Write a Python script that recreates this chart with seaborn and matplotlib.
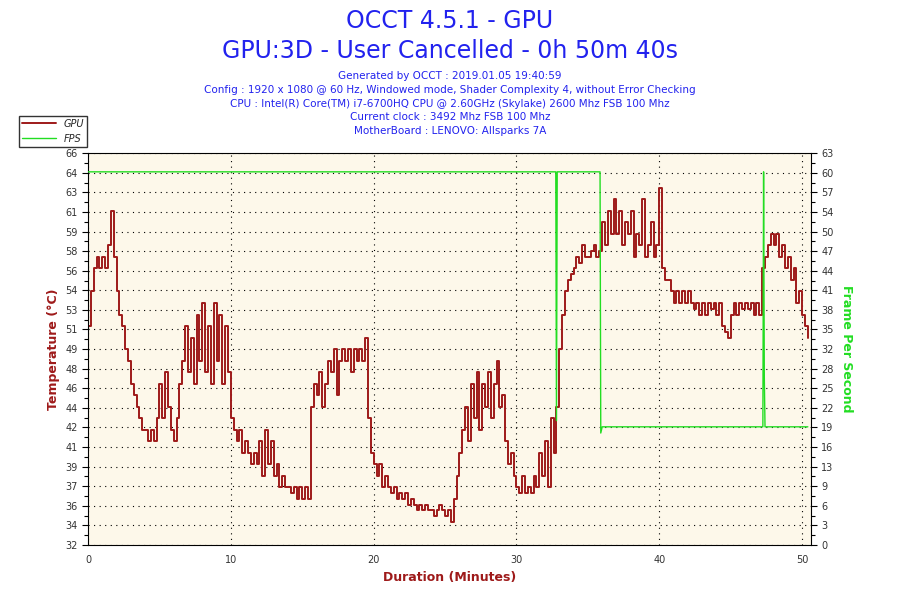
import numpy as np
import matplotlib
matplotlib.use("Agg")
import matplotlib.pyplot as plt
import seaborn as sns

# GPU temperature, one sample every 0.2 minutes
temp = [
    51, 54, 56, 57, 56,   57, 56, 58, 61, 57,   54, 52, 51, 49, 48,
    46, 45, 44, 43, 42,   42, 41, 42, 41, 43,   46, 43, 47, 44, 42,
    41, 43, 46, 48, 51,   47, 50, 46, 52, 48,   53, 47, 51, 46, 53,
    48, 52, 46, 51, 47,   43, 42, 41, 42, 40,   41, 40, 39, 40, 39,
    41, 38, 42, 39, 41,   38, 39, 37, 38, 37,   37, 36.5, 37, 36, 37,
    36, 37, 36, 44, 46,   45, 47, 44, 46, 48,   47, 49, 45, 48, 49,
    48, 49, 47, 49, 48,   49, 48, 50, 43, 40,   39, 38, 39, 37, 38,
    37, 36.5, 37, 36, 36.5, 36, 36.5, 35.5, 36, 35.5, 35, 35.5, 35, 35.5, 35,
    35, 34.5, 35, 35.5, 35, 34.5, 35, 34, 36, 38,  40, 42, 44, 41, 46,
    43, 47, 42, 46, 44,   47, 43, 46, 48, 44,   45, 41, 39, 40, 38,
    37, 36.5, 38, 36.5, 37, 36.5, 38, 37, 40, 38, 41, 37, 43, 40, 44,
    49, 52, 54, 55, 55.5, 56, 57, 56.5, 58, 57, 57, 57.5, 58, 57, 57.5,
    60, 58, 61, 59, 62,   59, 61, 58, 60, 59,   61, 57, 59, 58, 62,
    57, 58, 60, 57, 58,   63, 56, 55, 55, 54,   53, 54, 53, 54, 53,
    54, 53, 52.5, 53, 52, 53, 52, 53, 52.5, 53, 52, 53, 51, 50.5, 50,
    52, 53, 52, 53, 52.5, 53, 52.5, 53, 52, 53, 52, 56, 57, 58, 59,
    58, 59, 57, 58, 56,   57, 55, 56, 53, 54,   52, 51, 50,
]
temp_minutes = np.arange(len(temp)) * 0.2

fps_minutes = [0, 32.75, 32.8, 32.85, 35.85, 35.9, 36.0, 47.25, 47.3, 47.35, 47.4, 50.4]
fps_values = [60, 60, 20, 60, 60, 18, 19, 19, 60, 27, 19, 19]

left_labels = [32, 34, 36, 37, 39, 41, 42, 44, 46, 48, 49, 51, 53, 54, 56, 58, 59, 61, 63, 64, 66]
right_labels = [0, 3, 6, 9, 13, 16, 19, 22, 25, 28, 32, 35, 38, 41, 44, 47, 50, 54, 57, 60, 63]

sns.set_style("white")
plt.rcParams['font.family'] = ['DejaVu Sans']

red = "#9E1A1A"
green = "#22DD22"
blue = "#2222EE"

fig = plt.figure(figsize=(9, 6), dpi=100)
ax = fig.add_axes([0.0978, 0.0917, 0.803, 0.653])
ax.set_facecolor("#FDF8EA")
ax2 = ax.twinx()

ax.plot(temp_minutes, temp, color=red, lw=1.4, drawstyle="steps-post", label="GPU")
ax2.plot(fps_minutes, fps_values, color=green, lw=1.0, label="FPS")

ax.set_xlim(0, 50.6)
ax.set_ylim(32, 66)
ax2.set_ylim(0, 63)
ax.set_yticks(np.linspace(32, 66, 21))
ax.set_yticklabels([str(v) for v in left_labels], fontsize=7)
ax2.set_yticks(np.linspace(0, 63, 21))
ax2.set_yticklabels([str(v) for v in right_labels], fontsize=7)
ax.set_xticks([0, 10, 20, 30, 40, 50])
ax.set_xticklabels(["0", "10", "20", "30", "40", "50"], fontsize=7)
ax.set_xticks(np.arange(0, 51, 2), minor=True)
ax.set_yticks(np.linspace(32.85, 65.15, 20), minor=True)
ax2.set_yticks(np.linspace(1.575, 61.425, 20), minor=True)
for a in (ax, ax2):
    a.tick_params(which="both", direction="out", length=4, width=0.8, colors="black", labelcolor="#333333")
    a.tick_params(which="minor", length=3)
ax.grid(True, which="major", color="black", linestyle=(0, (1, 4)), lw=0.8)
for s in ax.spines.values():
    s.set_color("black")
for s in ax2.spines.values():
    s.set_visible(False)

ax.set_ylabel("Temperature (°C)", color=red, fontsize=9, fontweight="bold")
ax2.set_ylabel("Frame Per Second", color=green, fontsize=9, fontweight="bold", rotation=270, labelpad=14)
ax.set_xlabel("Duration (Minutes)", color=red, fontsize=9, fontweight="bold")

fig.text(0.5, 0.965, "OCCT 4.5.1 - GPU", ha="center", va="center", fontsize=17, color=blue)
fig.text(0.5, 0.915, "GPU:3D - User Cancelled - 0h 50m 40s", ha="center", va="center", fontsize=17, color=blue)
info = [
    "Generated by OCCT : 2019.01.05 19:40:59",
    "Config : 1920 x 1080 @ 60 Hz, Windowed mode, Shader Complexity 4, without Error Checking",
    "CPU : Intel(R) Core(TM) i7-6700HQ CPU @ 2.60GHz (Skylake) 2600 Mhz FSB 100 Mhz",
    "Current clock : 3492 Mhz FSB 100 Mhz",
    "MotherBoard : LENOVO: Allsparks 7A",
]
for i, line in enumerate(info):
    fig.text(0.5, 0.873 - i * 0.0228, line, ha="center", va="center", fontsize=7.5, color=blue)

h1, l1 = ax.get_legend_handles_labels()
h2, l2 = ax2.get_legend_handles_labels()
leg = fig.legend(h1 + h2, l1 + l2, loc="upper left", bbox_to_anchor=(0.016, 0.815),
                 frameon=True, fancybox=False, fontsize=7, handlelength=3.5,
                 borderpad=0.3, labelspacing=0.5)
leg.get_frame().set_edgecolor("black")
for t in leg.get_texts():
    t.set_fontstyle("italic")

fig.savefig("out.png", dpi=100)
